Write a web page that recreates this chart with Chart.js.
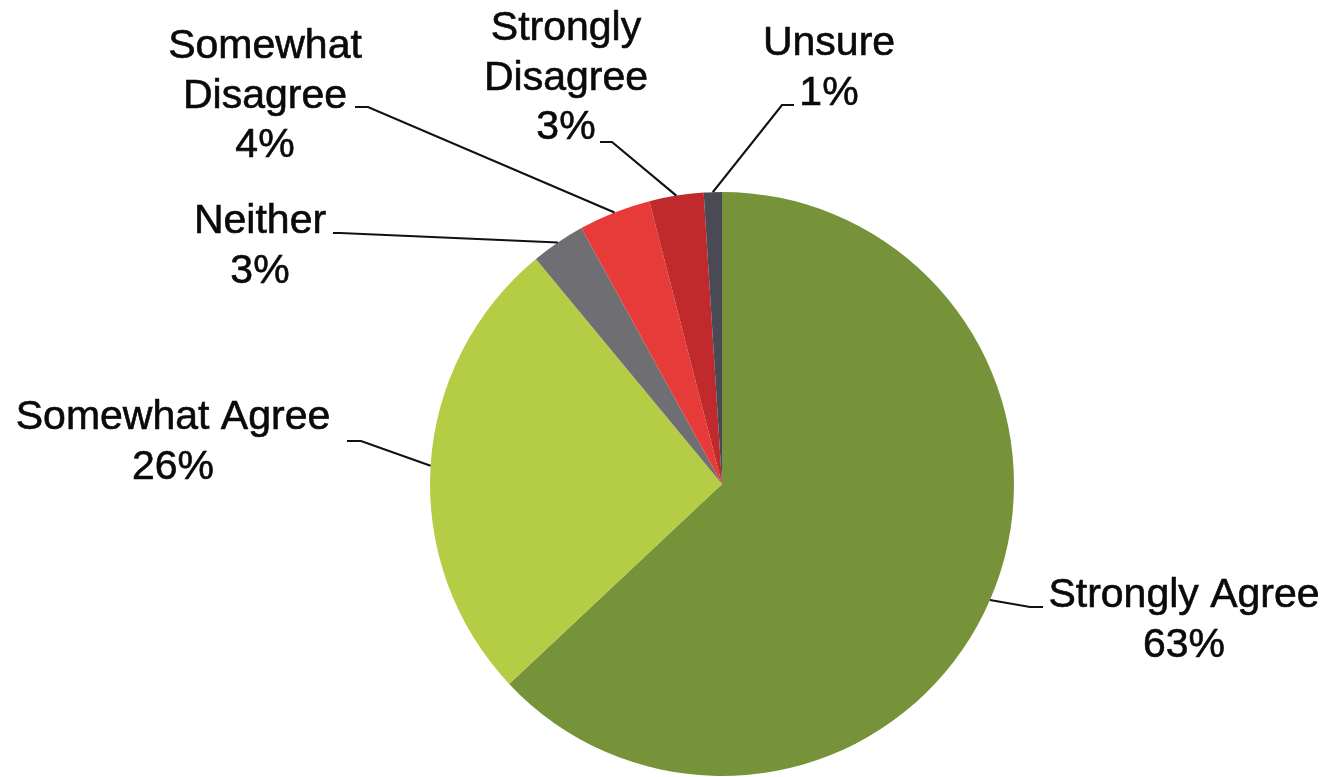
<!DOCTYPE html>
<html lang="en">
<head>
    <meta charset="UTF-8">
    <title>Survey Responses</title>
    <script src="https://cdn.jsdelivr.net/npm/chart.js"></script>
    <style>
        html, body {
            margin: 0;
            padding: 0;
            background: #ffffff;
        }
        .chart-wrap {
            position: relative;
            width: 1329px;
            height: 777px;
        }
    </style>
</head>
<body>
    <div class="chart-wrap">
        <canvas id="pieChart"></canvas>
    </div>

    <script>
        // response categories (multi-line where the label wraps)
        const categories = [
            'Strongly Agree',
            'Somewhat Agree',
            'Neither',
            ['Somewhat', 'Disagree'],
            ['Strongly', 'Disagree'],
            'Unsure'
        ];
        const percents = [63, 26, 3, 4, 3, 1];
        const sliceColors = ['#77933a', '#b4cd45', '#6f6f73', '#e73b3a', '#c12a2d', '#4a4a54'];

        // label block: centre x, first baseline, and the leader line's bend
        const labelLayout = [
            { cx: 1184, base: 607, elbow: [1030, 607], end: [1043, 607] },
            { cx: 173,  base: 429, elbow: [361, 441],  end: [347, 441] },
            { cx: 260,  base: 233, elbow: [340, 233],  end: [333, 233] },
            { cx: 265,  base: 58,  elbow: [368, 107],  end: [355, 107] },
            { cx: 566,  base: 40,  elbow: [612, 142],  end: [600, 142] },
            { cx: 829,  base: 55,  elbow: [782, 105],  end: [794, 105] }
        ];
        const lineGap = 49.5;
        const labelFont = '41px Arial, "Liberation Sans", Helvetica, sans-serif';

        const leaderLabels = {
            id: 'leaderLabels',
            afterDraw(chart) {
                const ctx = chart.ctx;
                const meta = chart.getDatasetMeta(0);
                ctx.save();
                meta.data.forEach((arc, i) => {
                    const p = arc.getProps(['x', 'y', 'startAngle', 'endAngle', 'outerRadius'], true);
                    const mid = (p.startAngle + p.endAngle) / 2;
                    const ax = p.x + Math.cos(mid) * p.outerRadius;
                    const ay = p.y + Math.sin(mid) * p.outerRadius;
                    const lay = labelLayout[i];

                    ctx.beginPath();
                    ctx.moveTo(ax, ay);
                    ctx.lineTo(lay.elbow[0], lay.elbow[1]);
                    ctx.lineTo(lay.end[0], lay.end[1]);
                    ctx.strokeStyle = '#111111';
                    ctx.lineWidth = 2.2;
                    ctx.stroke();

                    const name = chart.data.labels[i];
                    const lines = (Array.isArray(name) ? name.slice() : [name]);
                    lines.push(chart.data.datasets[0].data[i] + '%');
                    ctx.fillStyle = '#0a0a0a';
                    ctx.strokeStyle = '#0a0a0a';
                    ctx.lineWidth = 0.6;
                    ctx.font = labelFont;
                    ctx.textAlign = 'center';
                    ctx.textBaseline = 'alphabetic';
                    lines.forEach((t, k) => {
                        const y = lay.base + k * lineGap;
                        ctx.fillText(t, lay.cx, y);
                        ctx.strokeText(t, lay.cx, y);
                    });
                });
                ctx.restore();
            }
        };

        new Chart(document.getElementById('pieChart'), {
            type: 'pie',
            data: {
                labels: categories,
                datasets: [{
                    data: percents,
                    backgroundColor: sliceColors,
                    borderWidth: 0
                }]
            },
            options: {
                responsive: true,
                maintainAspectRatio: false,
                animation: false,
                layout: {
                    padding: { left: 430, right: 315, top: 192, bottom: 1 }
                },
                plugins: {
                    legend: { display: false },
                    tooltip: { enabled: false }
                }
            },
            plugins: [leaderLabels]
        });
    </script>
</body>
</html>
